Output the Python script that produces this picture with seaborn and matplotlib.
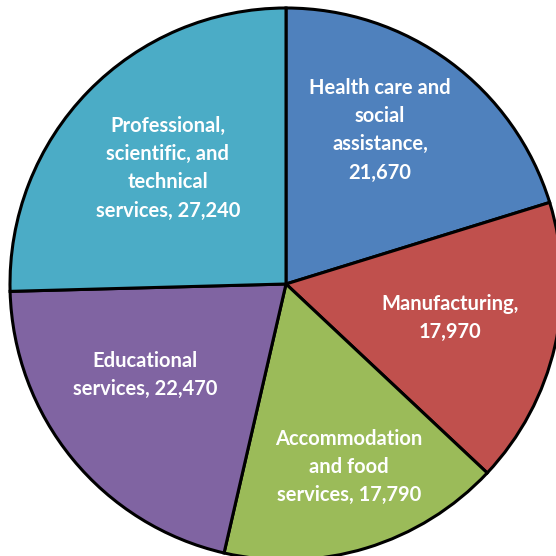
import matplotlib
matplotlib.use("Agg")
import matplotlib.pyplot as plt
import seaborn as sns

categories = ["Health care and social assistance", "Manufacturing",
              "Accommodation and food services", "Educational services",
              "Professional, scientific, and technical services"]
values = [21670, 17970, 17790, 22470, 27240]
label_templates = [
    "Health care and\nsocial\nassistance,\n{v}",
    "Manufacturing,\n{v}",
    "Accommodation\nand food\nservices, {v}",
    "Educational\nservices, {v}",
    "Professional,\nscientific, and\ntechnical\nservices, {v}",
]
colors = ["#4F81BD", "#C0504D", "#9BBB59", "#8064A2", "#4BACC6"]
label_pos = [(0.341, 0.558), (0.594, -0.123), (0.228, -0.663),
             (-0.511, -0.330), (-0.428, 0.420)]

sns.set_theme(style="white")
plt.rcParams['font.family'] = ['Lato', 'DejaVu Sans']

fig = plt.figure(figsize=(5.56, 5.56), dpi=100)
ax = fig.add_axes([10/556, -4/556, 552/556, 552/556])
ax.pie(values, colors=sns.color_palette(colors), startangle=90, counterclock=False,
       radius=1, wedgeprops=dict(edgecolor="black", linewidth=2.2))
ax.set_xlim(-1, 1)
ax.set_ylim(-1, 1)
ax.set_aspect("equal")
ax.axis("off")

for tpl, v, (x, y) in zip(label_templates, values, label_pos):
    ax.text(x, y, tpl.format(v=f"{v:,}"), ha="center", va="center", color="white",
            fontsize=14.5, fontweight="bold", linespacing=1.52)

fig.savefig("out.png", dpi=100)
